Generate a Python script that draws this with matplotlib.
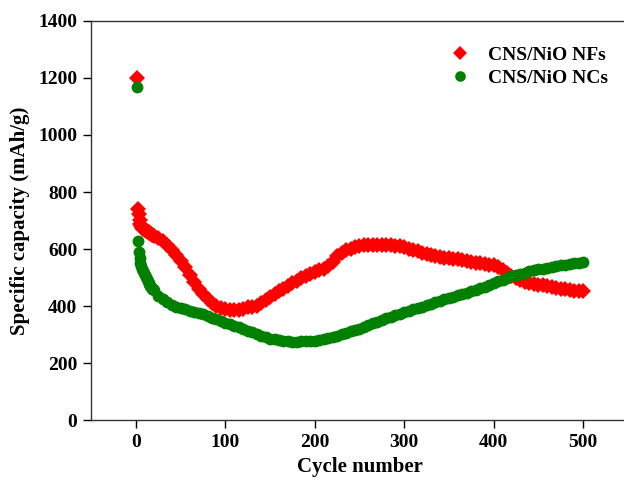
import numpy as np
import matplotlib
matplotlib.use("Agg")
import matplotlib.pyplot as plt

# cycle numbers (every cycle up to 20, then every 5th cycle)
cycles = list(range(1, 21)) + list(range(25, 501, 5))

# CNS/NiO NFs specific capacity (mAh/g)
nfs_vals = [1200, 740, 722, 703, 688, 680, 675, 671, 669, 667,
            665, 663, 661, 659, 657, 655, 653, 651, 649, 647,
            638, 628, 614, 598, 580, 560, 536,
            510, 485, 462, 442, 425, 412, 402, 395, 390, 387,
            386, 388, 392, 396, 398, 402, 410, 422, 432, 442,
            452, 462, 472, 482, 490, 498, 506, 512, 520, 526,
            532, 540, 555, 575, 588, 596, 602, 606, 610, 613,
            615, 616, 616, 616, 615, 614, 612, 610, 607, 602,
            597, 592, 587, 582, 578, 575, 572, 570, 568, 566,
            564, 562, 559, 556, 553, 550, 548, 546, 544, 536,
            526, 516, 507, 498, 491, 486, 482, 479, 476, 473,
            470, 467, 464, 461, 459, 457, 455, 453, 452]

# CNS/NiO NCs specific capacity (mAh/g)
ncs_vals = [1168, 630, 590, 568, 552, 540, 530, 522, 515, 508,
            501, 495, 489, 483, 477, 471, 466, 462, 459, 456,
            437, 424, 414, 404, 398, 393, 389,
            384, 380, 376, 372, 366, 360, 354, 347, 342, 337,
            332, 327, 321, 315, 309, 302, 296, 291, 287, 284,
            281, 279, 277, 276, 276, 277, 277, 278, 280, 283,
            286, 289, 292, 297, 302, 307, 312, 317, 322, 328,
            334, 340, 346, 352, 358, 363, 368, 374, 379, 384,
            389, 394, 399, 404, 409, 414, 419, 424, 429, 434,
            439, 444, 448, 453, 458, 463, 468, 474, 480, 487,
            493, 499, 505, 509, 514, 518, 522, 526, 529, 532,
            535, 538, 541, 544, 546, 549, 551, 553, 554]

labels = ["CNS/NiO NFs", "CNS/NiO NCs"]
xticks = [0, 100, 200, 300, 400, 500]
yticks = [0, 200, 400, 600, 800, 1000, 1200, 1400]

plt.rcParams['font.family'] = ['Liberation Serif', 'DejaVu Serif']
plt.rcParams['font.weight'] = 'bold'
plt.rcParams['axes.labelweight'] = 'bold'

fig = plt.figure(figsize=(6.24, 4.82), dpi=100)
ax = fig.add_axes([0.1463, 0.1276, 0.8596, 0.8295])

ax.plot(cycles, nfs_vals, linestyle='none', marker='D', markersize=8,
        color='#ff0000', markeredgewidth=0, label=labels[0])
ax.plot(cycles, ncs_vals, linestyle='none', marker='o', markersize=8.5,
        color='#008000', markeredgewidth=0, label=labels[1])

ax.set_xlim(-50, 550)
ax.set_ylim(0, 1400)
ax.set_xticks(xticks)
ax.set_yticks(yticks)
ax.tick_params(direction='out', length=6, width=1.0, labelsize=14, pad=4,
               top=False, right=False)
for s in ['left', 'bottom', 'top']:
    ax.spines[s].set_linewidth(1.0)
    ax.spines[s].set_color('#333333')
ax.spines['right'].set_visible(False)

ax.set_xlabel("Cycle number", fontsize=15, labelpad=4)
ax.set_ylabel("Specific capacity (mAh/g)", fontsize=15, labelpad=6)

leg = ax.legend(loc='upper left', bbox_to_anchor=(445.5 / 624, 1 - 46 / 482),
                bbox_transform=fig.transFigure, frameon=False, fontsize=14,
                handlelength=1.5, handletextpad=0.7, labelspacing=0.3,
                borderpad=0, borderaxespad=0, markerscale=0.9)

fig.savefig("out.png", dpi=100)
